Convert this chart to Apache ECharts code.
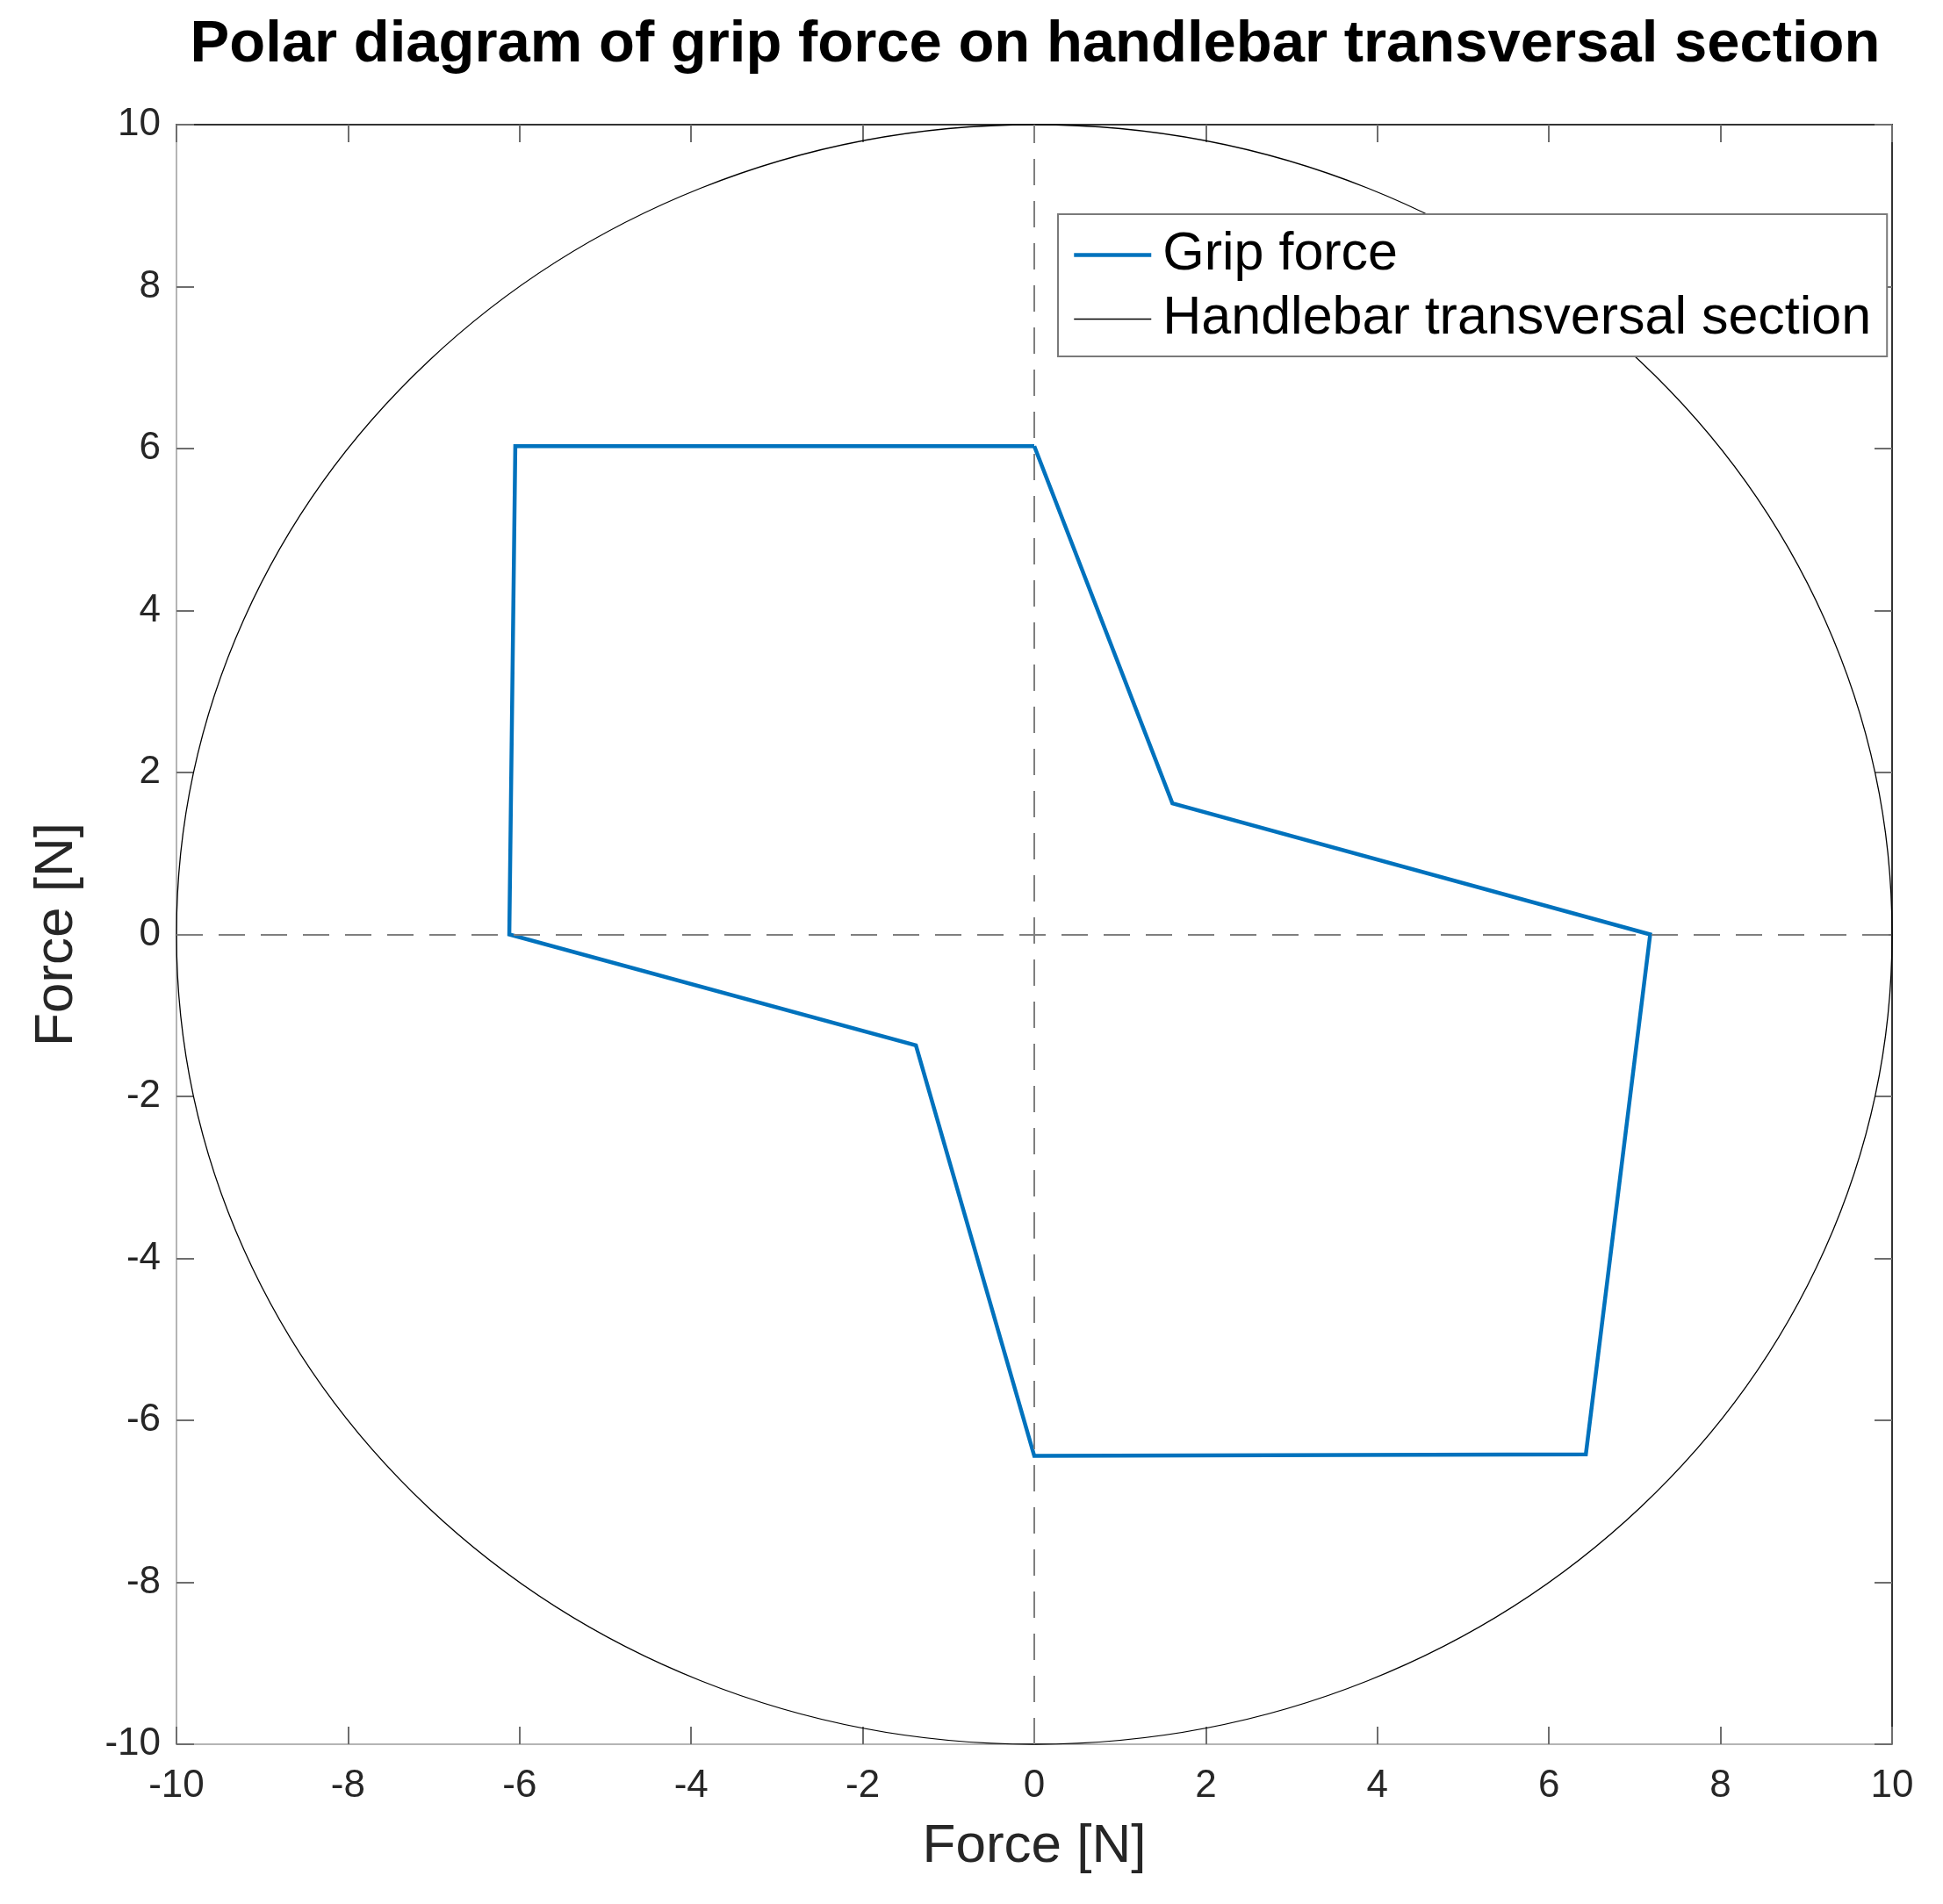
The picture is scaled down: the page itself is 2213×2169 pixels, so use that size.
<!DOCTYPE html>
<html>
<head>
<meta charset="utf-8">
<script src="https://cdn.jsdelivr.net/npm/echarts@6/dist/echarts.min.js"></script>
<style>
html,body{margin:0;padding:0;background:#fff;}
#chart{width:2213px;height:2169px;}
</style>
</head>
<body>
<div id="chart"></div>
<script>
// ---- data ----
const titleText = 'Polar diagram of grip force on handlebar transversal section';
const axisTitle = 'Force [N]';
const seriesNames = ['Grip force', 'Handlebar transversal section'];
// grip force polygon vertices (N), closed
const gripX = [0, 1.61, 7.18, 6.43, 0, -1.38, -6.12, -6.05, 0];
const gripY = [6.03, 1.62, 0, -6.42, -6.44, -1.37, 0, 6.03, 6.03];
// handlebar section: centre and radius
const handlebarCenter = [0, 0];
const handlebarRadius = 10;
// axis ticks
const axisMin = -10, axisMax = 10, axisStep = 2;

const FONT = 'Liberation Sans, Arial, Helvetica, sans-serif';
const gripData = gripX.map((x, i) => [x, gripY[i]]);

const chart = echarts.init(document.getElementById('chart'), null, {renderer: 'canvas'});

function baseAxis(extra) {
  return Object.assign({
    type: 'value', min: axisMin, max: axisMax, interval: axisStep,
    splitLine: {show: false},
    axisTick: {show: true, inside: true, length: 20, lineStyle: {color: '#6e6e6e', width: 2}},
  }, extra);
}

chart.setOption({
  animation: false,
  backgroundColor: '#ffffff',
  title: {
    text: titleText,
    left: 1179, textAlign: 'center', top: 18, padding: 0,
    textStyle: {fontFamily: FONT, fontSize: 67, fontWeight: 'bold', color: '#000'}
  },
  legend: {
    data: [
      {name: seriesNames[0], lineStyle: {width: 4.5, color: '#0072BD'}, itemStyle: {opacity: 0, borderWidth: 0}},
      {name: seriesNames[1], lineStyle: {width: 1.5, color: '#000'}, itemStyle: {opacity: 0, borderWidth: 0}}
    ],
    orient: 'vertical',
    left: 1205, top: 244,
    padding: [16, 18, 12, 16],
    itemWidth: 88, itemHeight: 4, itemGap: 12,
    backgroundColor: '#ffffff',
    borderColor: '#7a7a7a', borderWidth: 2,
    textStyle: {fontFamily: FONT, fontSize: 61, color: '#000', padding: [0, 0, 0, 8]},
    selectedMode: false
  },
  grid: {left: 201, top: 142, width: 1954, height: 1845, containLabel: false},
  xAxis: [
    baseAxis({
      position: 'bottom',
      axisLine: {show: true, onZero: false, lineStyle: {color: '#b5b5b5', width: 2}},
      axisLabel: {fontFamily: FONT, fontSize: 44, color: '#262626', margin: 26},
      name: axisTitle, nameLocation: 'middle', nameGap: 86,
      nameTextStyle: {fontFamily: FONT, fontSize: 62, color: '#262626'}
    }),
    baseAxis({
      position: 'top',
      axisLine: {show: true, onZero: false, lineStyle: {color: '#333333', width: 2}},
      axisLabel: {show: false}
    })
  ],
  yAxis: [
    baseAxis({
      position: 'left',
      axisLine: {show: true, onZero: false, lineStyle: {color: '#b5b5b5', width: 2}},
      axisLabel: {fontFamily: FONT, fontSize: 44, color: '#262626', margin: 18},
      name: axisTitle, nameLocation: 'middle', nameGap: 105, nameRotate: 90,
      nameTextStyle: {fontFamily: FONT, fontSize: 62, color: '#262626'}
    }),
    baseAxis({
      position: 'right',
      axisLine: {show: true, onZero: false, lineStyle: {color: '#333333', width: 2}},
      axisLabel: {show: false}
    })
  ],
  series: [
    {
      name: seriesNames[0],
      type: 'line',
      data: gripData,
      symbol: 'none',
      z: 3,
      lineStyle: {color: '#0072BD', width: 4.5, join: 'miter'},
      itemStyle: {color: '#0072BD'},
      markLine: {
        silent: true,
        symbol: ['none', 'none'],
        label: {show: false},
        lineStyle: {type: [30, 18], color: '#7f7f7f', width: 2},
        data: [{xAxis: 0}, {yAxis: 0}]
      }
    },
    {
      // legend entry for the section outline
      name: seriesNames[1],
      type: 'line',
      data: [],
      symbol: 'none',
      lineStyle: {color: '#000', width: 1.5},
      itemStyle: {color: '#000'}
    },
    {
      name: seriesNames[1],
      type: 'custom',
      coordinateSystem: 'cartesian2d',
      silent: true,
      z: 2,
      encode: {x: 0, y: 1},
      data: [[handlebarCenter[0], handlebarCenter[1], handlebarRadius]],
      renderItem: function (params, api) {
        const c = api.coord([api.value(0), api.value(1)]);
        const s = api.size([api.value(2), api.value(2)]);
        return {
          type: 'ellipse',
          shape: {cx: c[0], cy: c[1], rx: s[0], ry: s[1]},
          style: {fill: 'none', stroke: '#000', lineWidth: 1.3}
        };
      }
    }
  ]
});
</script>
</body>
</html>
